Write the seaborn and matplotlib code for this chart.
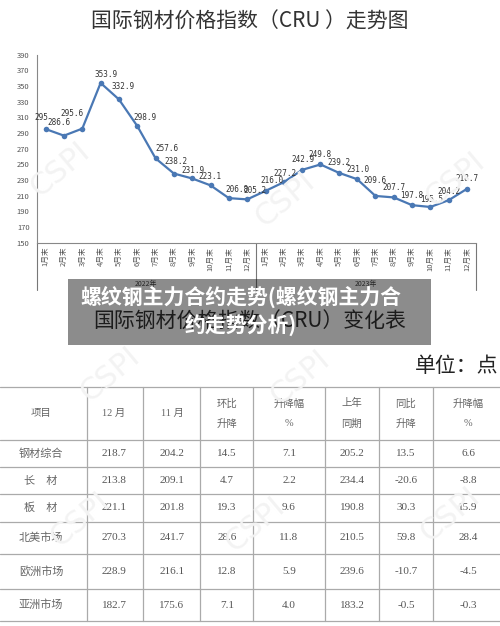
import matplotlib
matplotlib.use("Agg")
import pandas as pd
import matplotlib.pyplot as plt
from matplotlib.patches import Rectangle
import seaborn as sns

# ---- data ----
month_labels = ["1月末", "2月末", "3月末", "4月末", "5月末", "6月末",
                "7月末", "8月末", "9月末", "10月末", "11月末", "12月末"]
periods = month_labels + month_labels
years = ["2022年", "2023年"]
cru_index = [295, 286.6, 295.6, 353.9, 332.9, 298.9, 257.6, 238.2, 231.9, 223.1, 206.8, 205.2,
             216.0, 227.2, 242.9, 249.8, 239.2, 231.0, 209.6, 207.7, 197.8, 195.5, 204.2, 218.7]
point_labels = ["295", "286.6", "295.6", "353.9", "332.9", "298.9", "257.6", "238.2",
                "231.9", "223.1", "206.8", "205.2", "216.0", "227.2", "242.9", "249.8",
                "239.2", "231.0", "209.6", "207.7", "197.8", "195.5", "204.2", "218.7"]

table_header = ["项目", "12 月", "11 月", "环比\n升降", "升降幅\n%", "上年\n同期", "同比\n升降", "升降幅\n%"]
row_names = ["钢材综合", "长　材", "板　材", "北美市场", "欧洲市场", "亚洲市场"]
dec = [218.7, 213.8, 221.1, 270.3, 228.9, 182.7]
nov = [204.2, 209.1, 201.8, 241.7, 216.1, 175.6]
mom = [14.5, 4.7, 19.3, 28.6, 12.8, 7.1]
mom_pct = [7.1, 2.2, 9.6, 11.8, 5.9, 4.0]
last_year = [205.2, 234.4, 190.8, 210.5, 239.6, 183.2]
yoy = [13.5, -20.6, 30.3, 59.8, -10.7, -0.5]
yoy_pct = [6.6, -8.8, 15.9, 28.4, -4.5, -0.3]

# label offsets (pixels) so the values sit like in the source
label_off = [(-4, 12), (-5, 13), (-10, 15), (5, 8), (4, 13), (8, 9), (11, 10), (2, 12),
             (1, 8), (-1, 9), (8, 9), (8, 9), (6, 10), (1, 9), (1, 10), (0, 10),
             (0, 10), (1, 10), (0, 15), (0, 10), (0, 10), (1, 7), (0, 9), (0, 10)]

sns.set_style("white")
plt.rcParams["font.family"] = ["Noto Sans CJK SC", "DejaVu Sans"]

W, H = 500, 626
fig = plt.figure(figsize=(5, 6.26), dpi=100)


def fx(x):
    return x / W


def fy(y):
    return 1 - y / H


# faint watermarks
for (wx, wy) in [(60, 170), (285, 200), (455, 180), (80, 520), (255, 525), (450, 515),
                 (110, 375), (300, 378)]:
    fig.text(fx(wx), fy(wy), "CSPI", rotation=40, fontsize=22, color="#f3f3f3",
             ha="center", va="center", family="DejaVu Sans", zorder=0)

# ---- line chart ----
ax = fig.add_axes([fx(36.5), fy(242.6), (476.2 - 36.5) / W, (242.6 - 54.7) / H])
ax.patch.set_alpha(0)
df = pd.DataFrame({"idx": range(len(cru_index)), "value": cru_index})
sns.lineplot(data=df, x="idx", y="value", ax=ax, color="#4a78b4", lw=1.6,
             marker="o", markersize=4, markeredgewidth=0)
ax.set_xlim(-0.5, 23.5)
ax.set_ylim(150, 390)
ax.set_yticks(range(150, 391, 20))
ax.set_xticks(range(len(periods)))
ax.set_xticklabels(periods, rotation=90, fontsize=5.5, color="#555")
ax.tick_params(axis="y", labelsize=5.5, labelcolor="#555", length=0, pad=5)
ax.tick_params(axis="x", length=0, pad=3)
ax.set_xlabel("")
ax.set_ylabel("")
for s in ["top", "right"]:
    ax.spines[s].set_visible(False)
for s in ["left", "bottom"]:
    ax.spines[s].set_color("#888")
    ax.spines[s].set_linewidth(0.8)

for i, (v, lbl) in enumerate(zip(cru_index, point_labels)):
    ax.annotate(lbl, (i, v), xytext=label_off[i], textcoords="offset pixels",
                ha="center", va="center", fontsize=5.5, color="#333",
                family="DejaVu Sans Mono")

# category box lines and year labels
tr = ax.get_xaxis_transform()
for xb in [-0.5, 11.5, 23.5]:
    ax.plot([xb, xb], [0, -0.25], transform=tr, clip_on=False, color="#777", lw=0.8)
for k, yr in enumerate(years):
    ax.text(5.5 + 12 * k, -0.22, yr, transform=tr, fontsize=5, ha="center",
            va="center", color="#444")

# titles
fig.text(fx(250), fy(22), "国际钢材价格指数（CRU ）走势图", fontsize=15,
         ha="center", va="center", color="#333")
fig.text(fx(250), fy(322), "国际钢材价格指数（CRU）变化表", fontsize=15,
         ha="center", va="center", color="#333")
fig.text(fx(415), fy(366), "单位：点", fontsize=15, ha="left", va="center", color="#222")

# overlay banner
fig.add_artist(Rectangle((fx(68), fy(345)), (431 - 68) / W, (345 - 279) / H,
                         transform=fig.transFigure, facecolor="black", alpha=0.45,
                         edgecolor="none", zorder=10))
fig.text(fx(241), fy(311), "螺纹钢主力合约走势(螺纹钢主力合\n约走势分析)", fontsize=15,
         fontweight="bold", color="white", ha="center", va="center",
         multialignment="center", linespacing=1.3, zorder=11)

# ---- table ----
tax = fig.add_axes([0, 0, 1, 1])
tax.patch.set_alpha(0)
tax.set_xlim(0, W)
tax.set_ylim(H, 0)
tax.axis("off")

col_edges = [87, 143, 200, 253, 325, 379, 433]
col_centers = [41, 114, 172, 227, 289, 352, 406, 468]
row_lines = [387, 440, 467, 494, 522, 554, 589, 621]
line_c = "#aaa"
for yl in row_lines:
    tax.plot([0, W], [yl, yl], color=line_c, lw=0.9)
for xl in col_edges:
    tax.plot([xl, xl], [row_lines[0], row_lines[-1]], color=line_c, lw=0.9)

head_y = (row_lines[0] + row_lines[1]) / 2
for cx, txt in zip(col_centers, table_header):
    tax.text(cx, head_y, txt, ha="center", va="center", fontsize=7.5, color="#666",
             family=["Liberation Serif", "Noto Sans CJK SC"], linespacing=2.3)

columns = [dec, nov, mom, mom_pct, last_year, yoy, yoy_pct]
for r, name in enumerate(row_names):
    cy = (row_lines[r + 1] + row_lines[r + 2]) / 2
    tax.text(col_centers[0], cy, name, ha="center", va="center", fontsize=8,
             color="#666")
    for c, col in enumerate(columns):
        tax.text(col_centers[c + 1], cy, f"{col[r]:.1f}", ha="center", va="center",
                 fontsize=8, color="#555", family="Liberation Serif")

plt.savefig("out.png", dpi=100)
